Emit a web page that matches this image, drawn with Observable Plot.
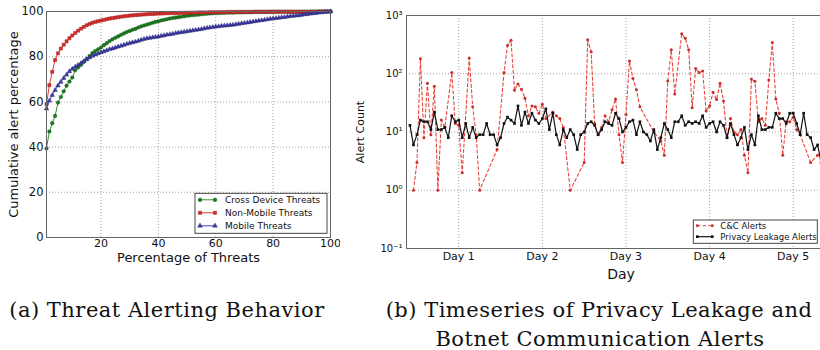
<!DOCTYPE html>
<html><head><meta charset="utf-8">
<script src="https://cdn.jsdelivr.net/npm/d3@7"></script>
<script src="https://cdn.jsdelivr.net/npm/@observablehq/plot@0.6"></script>
<style>
html,body{margin:0;padding:0;background:#fff;width:820px;height:350px;overflow:hidden;}
#wrap{position:relative;width:820px;height:350px;overflow:hidden;}
.panel{position:absolute;top:0;}
.panel svg{max-width:none !important;}
.cap{position:absolute;font-family:"DejaVu Serif",serif;font-size:21px;line-height:21px;letter-spacing:0.5px;color:#111;white-space:nowrap;transform:translateX(-50%);}
</style></head><body><div id="wrap">
<div id="left" class="panel" style="left:0px;width:340px"></div>
<div id="right" class="panel" style="left:340px;width:500px"></div>
<div class="cap" style="left:167px;top:300px">(a) Threat Alerting Behavior</div>
<div class="cap" style="left:599px;top:300px">(b) Timeseries of Privacy Leakage and</div>
<div class="cap" style="left:600px;top:329px">Botnet Communication Alerts</div>
</div>
<script>
// ---------- Left panel data (a) ----------
const threatPct = d3.range(1, 101);
const crossDevice = [
39.4,46.9,50.6,53.8,59.7,62.2,64.7,67.2,69.0,70.8,
74.0,75.2,76.4,77.7,79.0,80.3,81.6,82.5,83.3,84.1,
85.1,86.0,86.9,87.7,88.4,89.0,89.7,90.3,90.9,91.4,
91.9,92.3,92.9,93.4,93.8,94.2,94.6,95.0,95.4,95.7,
96.0,96.3,96.6,96.9,97.1,97.3,97.5,97.7,97.9,98.1,
98.2,98.4,98.5,98.6,98.8,98.9,99.0,99.1,99.2,99.3,
99.3,99.4,99.4,99.5,99.5,99.5,99.6,99.6,99.6,99.7,
99.7,99.7,99.7,99.8,99.8,99.8,99.8,99.8,99.9,99.9,
99.9,99.9,99.9,99.9,99.9,99.9,99.9,99.9,99.9,99.9,
99.9,99.9,100,100,100,100,100,100,100,100];
const nonMobile = [
59.0,67.4,73.3,78.5,81.5,83.6,85.3,86.8,88.2,89.4,
90.5,91.5,92.4,93.2,93.9,94.5,95.0,95.4,95.7,96.0,
96.3,96.6,96.9,97.1,97.3,97.5,97.7,97.9,98.0,98.2,
98.3,98.4,98.5,98.6,98.7,98.8,98.9,98.9,99.0,99.1,
99.1,99.2,99.2,99.3,99.3,99.3,99.4,99.4,99.4,99.5,
99.5,99.5,99.5,99.6,99.6,99.6,99.6,99.7,99.7,99.7,
99.7,99.7,99.7,99.8,99.8,99.8,99.8,99.8,99.8,99.8,
99.8,99.8,99.9,99.9,99.9,99.9,99.9,99.9,99.9,99.9,
99.9,99.9,99.9,99.9,99.9,99.9,99.9,99.9,99.9,99.9,
99.9,99.9,99.9,99.9,99.9,100,100,100,100,100];
const mobile = [
57.0,60.5,63.0,65.2,67.2,68.8,70.5,72.0,73.5,74.6,
75.5,76.3,77.1,78.0,78.8,79.6,80.3,80.9,81.4,81.9,
82.3,82.8,83.3,83.6,84.0,84.4,84.8,85.2,85.6,86.0,
86.3,86.6,87.0,87.4,87.8,88.1,88.3,88.5,88.7,88.9,
89.2,89.4,89.7,89.9,90.1,90.4,90.6,90.8,91.0,91.2,
91.4,91.6,91.8,92.0,92.2,92.5,92.7,92.9,93.1,93.3,
93.4,93.6,93.7,93.8,94.0,94.1,94.3,94.5,94.7,94.9,
95.1,95.3,95.5,95.7,95.9,96.1,96.3,96.5,96.7,96.9,
97.0,97.2,97.4,97.5,97.7,97.9,98.0,98.2,98.3,98.5,
98.7,98.8,99.0,99.2,99.3,99.5,99.6,99.8,99.9,100];
const leftXTicks = [20, 40, 60, 80, 100];
const leftYTicks = [0, 20, 40, 60, 80, 100];
const leftLegend = ["Cross Device Threats", "Non-Mobile Threats", "Mobile Threats"];

// ---------- Right panel data (b) ----------
// hours since start of day 0
const leakHours = d3.range(10, 129);
const leakCounts = [
13,6,9,16,15,15,11,22,11,11,12,8,19,15,
16,8,14,8,12,8,9,9,14,9,9,6,8,14,18,16,14,28,13,22,14,21,16,14,
17,25,11,21,9,6,11,8,11,9,5,9,10,14,15,13,9,11,15,14,13,21,17,10,
12,15,16,9,15,10,9,7,11,5,8,14,11,8,15,15,19,13,15,14,15,14,19,12,
14,15,10,15,13,8,14,9,6,8,12,5,9,6,19,11,11,12,12,21,17,17,14,21,
21,14,9,21,9,8,5,6,3];
const ccHours = [11,12,13,14,15,16,17,18,19,20,22,23,24,25,27,28,29,30,35,37,38,39,40,41,42,43,44,45,46,47,
48,49,51,52,53,54,56,60,61,62,63,64,65,66,67,68,69,70,71,
72,73,74,75,76,80,82,83,84,85,86,88,89,90,91,92,93,94,95,
96,97,98,99,100,101,102,103,104,105,106,107,108,109,110,111,112,113,114,115,116,117,118,119,
120,121,122,125,127];
const ccCounts = [1,3,181,8,69,9,61,1,16,12,105,14,13,2,186,27,9,1,5,105,310,375,52,67,54,38,19,28,27,21,
30,17,22,19,17,12,1,3,383,238,14,9,12,19,15,24,37,9,3,
20,165,83,53,27,10,7,4,75,258,45,485,408,258,26,123,105,111,23,
28,48,36,69,34,8,17,10,9,11,4,2,81,74,15,17,13,78,345,37,21,4,15,15,
18,11,9,3,4];
const dayTicks = [24, 48, 72, 96, 120];
const dayLabels = ["Day 1", "Day 2", "Day 3", "Day 4", "Day 5"];
const logTicks = [0.1, 1, 10, 100, 1000];
const logLabels = ["10\u207B\u00B9", "10\u2070", "10\u00B9", "10\u00B2", "10\u00B3"];
const rightLegend = ["C&C Alerts", "Privacy Leakage Alerts"];

// ---------- styles ----------
const FONT = "'DejaVu Sans', sans-serif";
const gridStyle = {stroke: "#8a8a8a", strokeOpacity: 1, strokeWidth: 0.8, strokeDasharray: "1,2"};
const green = {line: "#2f9a2f", fill: "#1c7c1c", edge: "#0d4a0d"};
const red = {line: "#e53a35", fill: "#d8302c", edge: "#8a1a1a"};
const blue = {line: "#4040c0", fill: "#3c3ca8", edge: "#1e1e66"};

const rows = threatPct.map((p, i) => ({p, cross: crossDevice[i], non: nonMobile[i], mob: mobile[i]}));

const leftPlot = Plot.plot({
  width: 340, height: 280,
  marginLeft: 46, marginRight: 10, marginTop: 11, marginBottom: 43,
  style: {fontFamily: FONT, background: "transparent", color: "#111"},
  x: {domain: [1, 100]},
  y: {domain: [0, 100]},
  marks: [
    Plot.gridX([20, 40, 60, 80], gridStyle),
    Plot.gridY([20, 40, 60, 80], gridStyle),
    Plot.line(rows, {x: "p", y: "cross", stroke: green.line, strokeWidth: 1}),
    Plot.dot(rows, {x: "p", y: "cross", symbol: "circle", r: 1.8, fill: green.fill, stroke: green.edge, strokeWidth: 0.4}),
    Plot.line(rows, {x: "p", y: "non", stroke: red.line, strokeWidth: 1}),
    Plot.dot(rows, {x: "p", y: "non", symbol: "square", r: 1.8, fill: red.fill, stroke: red.edge, strokeWidth: 0.4}),
    Plot.line(rows, {x: "p", y: "mob", stroke: blue.line, strokeWidth: 1}),
    Plot.dot(rows, {x: "p", y: "mob", symbol: "triangle", r: 1.7, fill: blue.fill, stroke: blue.edge, strokeWidth: 0.4}),
    Plot.frame({stroke: "#666", strokeWidth: 1}),
    Plot.axisX(leftXTicks, {tickSize: 0, tickPadding: 2, fontSize: 11, label: null}),
    Plot.axisY(leftYTicks, {tickSize: 0, tickPadding: 3, fontSize: 11.5, label: null}),
    Plot.text(["Percentage of Threats"], {frameAnchor: "bottom", dy: 20.5, fontSize: 13, lineAnchor: "middle", textAnchor: "middle"}),
    Plot.text(["Cumulative alert percentage"], {frameAnchor: "left", dx: -32.3, rotate: -90, fontSize: 13, lineAnchor: "middle", textAnchor: "middle"})
  ]
});
leftPlot.style.maxWidth = "none";
document.getElementById("left").appendChild(leftPlot);

const leakRows = leakHours.map((h, i) => ({h, v: leakCounts[i]}));
const ccRows = ccHours.map((h, i) => ({h, v: ccCounts[i]}));

const rightPlot = Plot.plot({
  width: 500, height: 290,
  marginLeft: 66, marginRight: 5, marginTop: 15, marginBottom: 42,
  style: {fontFamily: FONT, background: "transparent", color: "#111"},
  x: {domain: [9, 132.14]},
  y: {type: "log", domain: [0.1, 1000]},
  marks: [
    Plot.gridX(dayTicks, gridStyle),
    Plot.gridY([1, 10, 100], gridStyle),
    Plot.line(ccRows, {x: "h", y: "v", stroke: "#e8443a", strokeWidth: 1.1, strokeDasharray: "3,2.5"}),
    Plot.dot(ccRows, {x: "h", y: "v", r: 1.5, fill: "#c9302c", stroke: "none"}),
    Plot.line(leakRows, {x: "h", y: "v", stroke: "#111", strokeWidth: 1.2}),
    Plot.dot(leakRows, {x: "h", y: "v", symbol: "square", r: 1.5, fill: "#111", stroke: "none"}),
    Plot.frame({stroke: "#666", strokeWidth: 1}),
    Plot.axisX(dayTicks, {tickSize: 0, tickPadding: 4, fontSize: 11, label: null, tickFormat: d => dayLabels[dayTicks.indexOf(d)]}),
    Plot.axisY(logTicks, {tickSize: 0, tickPadding: 4, fontSize: 10, label: null, tickFormat: d => logLabels[logTicks.indexOf(d)]}),
    Plot.text(["Day"], {frameAnchor: "bottom", dy: 26, fontSize: 14, lineAnchor: "middle", textAnchor: "middle"}),
    Plot.text(["Alert Count"], {frameAnchor: "left", dx: -46, rotate: -90, fontSize: 11, lineAnchor: "middle", textAnchor: "middle"})
  ]
});
rightPlot.style.maxWidth = "none";
document.getElementById("right").appendChild(rightPlot);

// ---------- legends ----------
function legend(svg, box, items, fontSize) {
  const g = d3.select(svg).append("g").attr("font-family", FONT).attr("font-size", fontSize).attr("text-anchor", "start");
  g.append("rect").attr("x", box.x).attr("y", box.y).attr("width", box.w).attr("height", box.h)
    .attr("fill", "#fff").attr("stroke", "#333").attr("stroke-width", 0.9);
  items.forEach((it, i) => {
    const cy = box.y + box.first + i * box.row;
    g.append("line").attr("x1", box.x + box.s0).attr("x2", box.x + box.s1).attr("y1", cy).attr("y2", cy)
      .attr("stroke", it.line).attr("stroke-width", it.width || 1).attr("stroke-dasharray", it.dash || null);
    [box.s0, box.s1].forEach(sx => {
      g.append("path").attr("d", d3.symbol().type(it.sym).size(it.size)())
        .attr("transform", `translate(${box.x + sx},${cy})`)
        .attr("fill", it.fill).attr("stroke", it.edge || "none").attr("stroke-width", 0.4);
    });
    g.append("text").attr("x", box.x + box.tx).attr("y", cy).attr("dy", "0.35em")
      .attr("text-anchor", "start").attr("fill", "#111").text(it.label);
  });
}
legend(leftPlot, {x: 195, y: 193.3, w: 132, h: 40, first: 6.5, row: 13, s0: 5, s1: 20, tx: 30},
  [
    {label: leftLegend[0], line: green.line, fill: green.fill, edge: green.edge, sym: d3.symbolCircle, size: 11},
    {label: leftLegend[1], line: red.line, fill: red.fill, edge: red.edge, sym: d3.symbolSquare, size: 11},
    {label: leftLegend[2], line: blue.line, fill: blue.fill, edge: blue.edge, sym: d3.symbolTriangle, size: 10}
  ], 9);
legend(rightPlot, {x: 353.3, y: 220, w: 124, h: 23.3, first: 5.7, row: 11, s0: 4, s1: 19, tx: 27},
  [
    {label: rightLegend[0], line: "#e8443a", fill: "#c9302c", sym: d3.symbolCircle, size: 7, dash: "3,2.5"},
    {label: rightLegend[1], line: "#111", fill: "#111", sym: d3.symbolSquare, size: 7, width: 1.2}
  ], 8.5);
</script>
</body></html>
